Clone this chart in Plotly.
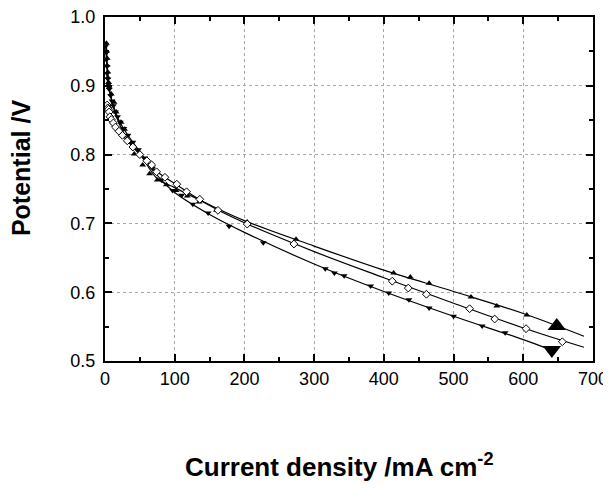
import plotly.graph_objects as go

# polarisation curves: current density (mA cm-2) / potential (V)
up_x = [2, 2, 3, 3, 4, 4, 5, 6, 9, 13, 16, 23, 28, 35, 42, 54, 64, 75, 88, 102,
        118, 135, 160, 204, 274, 414, 438, 465, 525, 562, 605]
up_y = [0.962, 0.950, 0.940, 0.930, 0.920, 0.912, 0.905, 0.898, 0.888, 0.876, 0.862,
        0.847, 0.837, 0.818, 0.801, 0.785, 0.772, 0.763, 0.756, 0.748, 0.740, 0.731,
        0.719, 0.702, 0.677, 0.628, 0.622, 0.613, 0.593, 0.580, 0.567]

open_x = [3, 4, 5, 6, 7, 9, 12, 15, 20, 25, 32, 40, 50, 60, 67, 74, 86, 103, 117,
          136, 162, 204, 271, 412, 435, 461, 523, 559, 604, 656]
open_y = [0.872, 0.868, 0.866, 0.862, 0.855, 0.851, 0.846, 0.840, 0.834, 0.828, 0.820,
          0.811, 0.800, 0.791, 0.785, 0.775, 0.767, 0.757, 0.746, 0.735, 0.719, 0.699,
          0.670, 0.616, 0.606, 0.597, 0.576, 0.561, 0.547, 0.528]

down_x = [1, 2, 2, 3, 3, 4, 5, 6, 8, 10, 12, 15, 18, 22, 27, 33, 40, 48, 57, 68, 81,
          97, 110, 126, 148, 178, 227, 316, 329, 343, 381, 407, 436, 465, 500, 541, 574]
down_y = [0.958, 0.948, 0.938, 0.928, 0.918, 0.910, 0.902, 0.895, 0.886, 0.878, 0.871,
          0.862, 0.855, 0.847, 0.838, 0.828, 0.818, 0.807, 0.795, 0.780, 0.763, 0.748,
          0.741, 0.728, 0.715, 0.696, 0.672, 0.634, 0.628, 0.624, 0.609, 0.599, 0.589,
          0.577, 0.565, 0.551, 0.541]

# last point of the two filled series is drawn bigger
up_end_x, up_end_y = [648], [0.551]
down_end_x, down_end_y = [641], [0.516]

# fitted lines
fit_up_x = [2, 5, 10, 20, 35, 50, 75, 100, 150, 200, 300, 400, 500, 600, 687]
fit_up_y = [0.962, 0.905, 0.876, 0.846, 0.818, 0.801, 0.765, 0.752, 0.727, 0.704,
            0.667, 0.632, 0.601, 0.569, 0.536]
fit_open_x = [3, 7, 15, 25, 40, 50, 75, 100, 150, 200, 300, 400, 500, 600, 687]
fit_open_y = [0.872, 0.855, 0.840, 0.828, 0.811, 0.800, 0.775, 0.758, 0.726, 0.701,
              0.659, 0.621, 0.584, 0.548, 0.520]
fit_down_x = [1, 5, 10, 20, 33, 50, 80, 100, 150, 200, 300, 400, 500, 600, 645]
fit_down_y = [0.958, 0.902, 0.878, 0.850, 0.828, 0.804, 0.764, 0.745, 0.713, 0.687,
              0.641, 0.601, 0.565, 0.531, 0.514]

fig = go.Figure()

for fx, fy in [(fit_up_x, fit_up_y), (fit_open_x, fit_open_y), (fit_down_x, fit_down_y)]:
    fig.add_trace(go.Scatter(x=fx, y=fy, mode='lines', line_shape='spline',
                             line=dict(color='black', width=1.2)))

fig.add_trace(go.Scatter(x=up_x, y=up_y, mode='markers',
                         marker=dict(symbol='triangle-up', size=6, color='black')))
fig.add_trace(go.Scatter(x=down_x, y=down_y, mode='markers',
                         marker=dict(symbol='triangle-down', size=6, color='black')))
fig.add_trace(go.Scatter(x=open_x, y=open_y, mode='markers',
                         marker=dict(symbol='diamond', size=6, color='white',
                                     line=dict(color='black', width=1))))
fig.add_trace(go.Scatter(x=up_end_x, y=up_end_y, mode='markers',
                         marker=dict(symbol='triangle-up', size=16, color='black')))
fig.add_trace(go.Scatter(x=down_end_x, y=down_end_y, mode='markers',
                         marker=dict(symbol='triangle-down', size=16, color='black')))

axis_common = dict(
    showline=True, linecolor='black', linewidth=2, mirror='ticks',
    ticks='inside', ticklen=7, tickwidth=1.5, tickcolor='black',
    showgrid=True, gridcolor='#a8a8a8', griddash='dot', gridwidth=1,
    zeroline=False, automargin=False, ticklabeloverflow='allow',
    tickfont=dict(family='Arial, Liberation Sans', size=18, color='black'),
)

fig.update_xaxes(range=[0, 700], dtick=100, tick0=0,
                 minor=dict(ticks='inside', ticklen=4, dtick=50, tickcolor='black',
                            showgrid=False),
                 **axis_common)
fig.update_yaxes(range=[0.5, 1.0], dtick=0.1, tick0=0.5, tickformat='.1f',
                 minor=dict(ticks='inside', ticklen=4, dtick=0.05, tickcolor='black',
                            showgrid=False),
                 ticklabelstandoff=4,
                 **axis_common)

fig.add_annotation(text='<b>Potential /V</b>', textangle=-90,
                   xref='paper', yref='paper', x=-0.172, y=0.561,
                   showarrow=False, xanchor='center', yanchor='middle',
                   font=dict(family='Arial, Liberation Sans', size=25, color='black'))
fig.add_annotation(text='<b>Current density /mA cm<sup>-2</sup></b>',
                   xref='paper', yref='paper', x=0.48, y=-0.305,
                   showarrow=False, xanchor='center', yanchor='middle',
                   font=dict(family='Arial, Liberation Sans', size=26, color='black'))

# the page body adds 8 px around the figure, so margins are trimmed by that much
fig.update_layout(
    width=611, height=490,
    margin=dict(l=97, r=26, t=9, b=137),
    paper_bgcolor='white', plot_bgcolor='white',
    showlegend=False,
)

fig.write_html("out.html")
